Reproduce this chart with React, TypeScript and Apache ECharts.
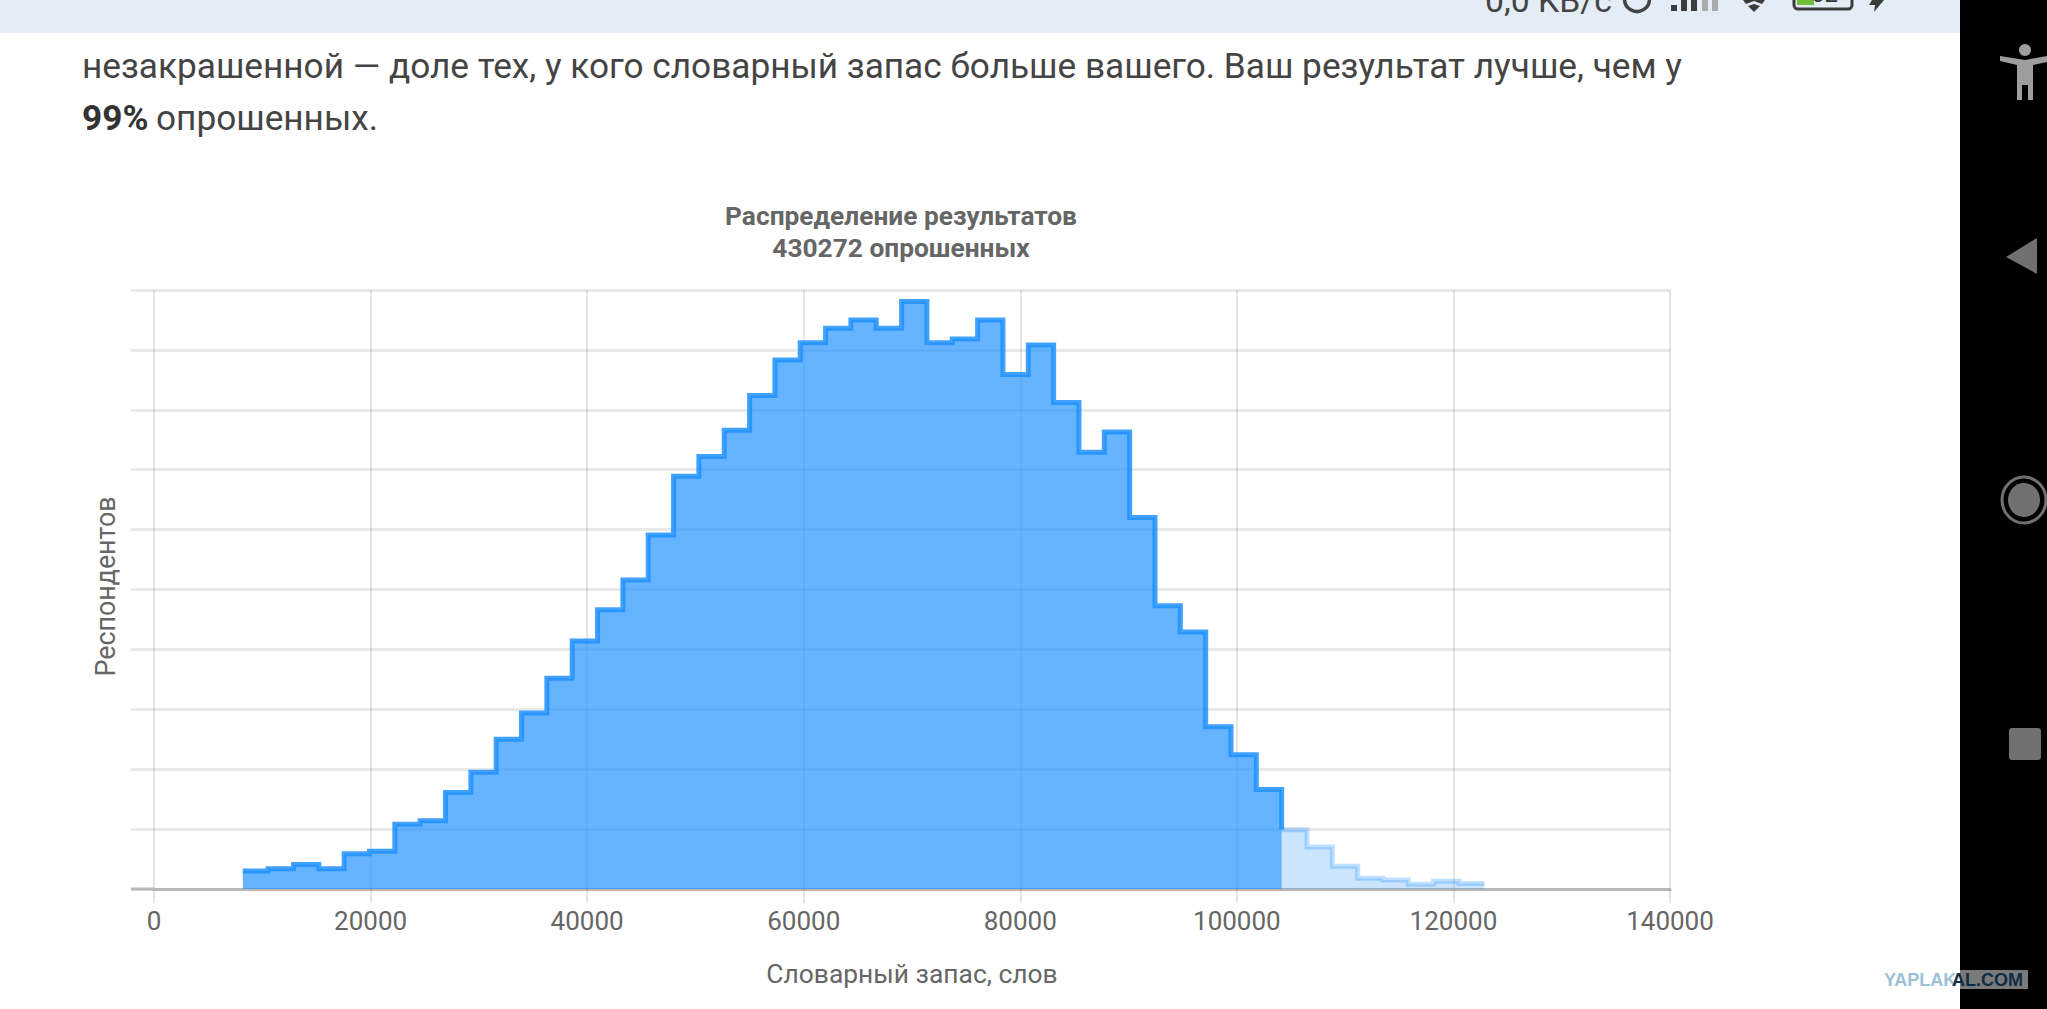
import React, { useEffect, useRef } from "react";
import * as echarts from "echarts";

const titleLines = ["Распределение результатов", "430272 опрошенных"];
const xAxisName = "Словарный запас, слов";
const yAxisName = "Респондентов";
const paragraphLine1 = "незакрашенной — доле тех, у кого словарный запас больше вашего. Ваш результат лучше, чем у";
const paragraphBold = "99%";
const paragraphRest = "опрошенных.";

// left edges of the histogram bins (words), last value closes the final bin
const binEdges = [
  8200, 10540, 12880, 15220, 17560, 19900, 22240, 24580, 26920, 29260,
  31600, 33940, 36280, 38620, 40960, 43300, 45640, 47980, 50320, 52660,
  55000, 57340, 59680, 62020, 64360, 66700, 69040, 71380, 73720, 76060,
  78400, 80740, 83080, 85420, 87760, 90100, 92440, 94780, 97120, 99460,
  101800, 104140, 106480, 108820, 111160, 113500, 115840, 118180, 120520, 122860,
];
// bar heights in gridline units (the y axis has no printed numbers)
const binHeights = [
  0.30, 0.34, 0.41, 0.34, 0.59, 0.63, 1.08, 1.14, 1.61, 1.95,
  2.50, 2.94, 3.52, 4.14, 4.66, 5.16, 5.91, 6.89, 7.22, 7.66,
  8.24, 8.83, 9.12, 9.36, 9.50, 9.36, 9.81, 9.12, 9.18, 9.50,
  8.59, 9.08, 8.12, 7.29, 7.63, 6.20, 4.73, 4.29, 2.71, 2.24,
  1.66, 0.99, 0.70, 0.38, 0.18, 0.15, 0.08, 0.13, 0.09,
];
const filledBinCount = 41;

const GRID_COLOR = "rgba(0,0,0,0.1)";
const H_GRID_COLOR = "rgba(0,0,0,0.085)";
const TEXT_COLOR = "#666666";
const PANEL_GREY = "#707070";
const STATUS_DARK = "#3c3c3c";

export default function App() {
  const ref = useRef<HTMLDivElement>(null);
  useEffect(() => {
    document.body.style.margin = "0";
    const chart = echarts.init(ref.current!, undefined, { renderer: "svg" });

    const filled: number[][] = binEdges
      .slice(0, filledBinCount)
      .map((x, i) => [x, binHeights[i]]);
    filled.push([binEdges[filledBinCount], binHeights[filledBinCount]]);
    const unfilled: number[][] = binEdges
      .slice(filledBinCount, binHeights.length)
      .map((x, i) => [x, binHeights[filledBinCount + i]]);
    unfilled.push([binEdges[binHeights.length], binHeights[binHeights.length - 1]]);

    chart.setOption({
      animation: false,
      backgroundColor: "#ffffff",
      textStyle: { fontFamily: "Roboto" },
      title: {
        text: titleLines.join("\n"),
        left: 896,
        top: 195,
        textAlign: "center",
        textStyle: {
          fontFamily: "Roboto",
          fontSize: 26.3,
          fontWeight: "bold",
          color: TEXT_COLOR,
          lineHeight: 32,
        },
      },
      grid: { left: 154, right: 377, top: 290, bottom: 120, containLabel: false },
      xAxis: {
        type: "value",
        min: 0,
        max: 140000,
        interval: 20000,
        name: xAxisName,
        nameLocation: "middle",
        nameGap: 72,
        nameTextStyle: { fontFamily: "Roboto", fontSize: 26.4, color: TEXT_COLOR },
        axisLine: { show: true, onZero: false, lineStyle: { color: "#b8b8b8", width: 3 } },
        axisTick: { show: true, length: 14, lineStyle: { color: GRID_COLOR, width: 2 } },
        axisLabel: {
          fontFamily: "Roboto",
          fontSize: 26,
          color: TEXT_COLOR,
          margin: 19,
          formatter: (v: number) => String(v),
        },
        splitLine: { show: true, lineStyle: { color: GRID_COLOR, width: 2 } },
      },
      yAxis: {
        type: "value",
        min: 0,
        max: 10,
        interval: 1,
        name: yAxisName,
        nameLocation: "middle",
        nameGap: 35,
        nameRotate: 90,
        nameTextStyle: { fontFamily: "Roboto", fontSize: 26.8, color: TEXT_COLOR, padding: [0, 0, 0, 6] },
        axisLine: { show: false },
        axisTick: { show: true, length: 23, lineStyle: { color: H_GRID_COLOR, width: 3 } },
        axisLabel: { show: false },
        splitLine: { show: true, lineStyle: { color: H_GRID_COLOR, width: 3 } },
      },
      series: [
        {
          type: "line",
          step: "end",
          data: filled,
          showSymbol: false,
          symbol: "none",
          lineStyle: { color: "rgba(30,144,255,0.85)", width: 5, cap: "butt", join: "miter" },
          areaStyle: { color: "rgba(30,144,255,0.68)", opacity: 1 },
          z: 3,
        },
        {
          type: "line",
          step: "end",
          data: unfilled,
          showSymbol: false,
          symbol: "none",
          lineStyle: { color: "rgba(30,144,255,0.28)", width: 5, cap: "butt", join: "miter" },
          areaStyle: { color: "rgba(30,144,255,0.23)", opacity: 1 },
          z: 2,
        },
      ],
      graphic: [
        { type: "line", z: 1, shape: { x1: 131, y1: 889, x2: 154, y2: 889 }, style: { stroke: "#b8b8b8", lineWidth: 3 } },
        { type: "rect", silent: true, z: 1, shape: { x: 0, y: 0, width: 1960, height: 33 }, style: { fill: "#e4edf5" } },
        { type: "text", z: 2, x: 1485, y: 17, style: { text: "0,0 KB/с", fontFamily: "Roboto", fontSize: 33.8, fill: "#444444", textVerticalAlign: "bottom" } },
        { type: "circle", z: 2, shape: { cx: 1637, cy: -1, r: 12.5 }, style: { fill: "none", stroke: "#444444", lineWidth: 3.5 } },
        { type: "rect", z: 2, shape: { x: 1671, y: 5, width: 6, height: 6 }, style: { fill: STATUS_DARK } },
        { type: "rect", z: 2, shape: { x: 1681, y: 0, width: 6, height: 11 }, style: { fill: STATUS_DARK } },
        { type: "rect", z: 2, shape: { x: 1691, y: 0, width: 6, height: 11 }, style: { fill: STATUS_DARK } },
        { type: "rect", z: 2, shape: { x: 1702, y: 0, width: 6, height: 11 }, style: { fill: "#aaaaaa" } },
        { type: "rect", z: 2, shape: { x: 1712, y: 0, width: 6, height: 11 }, style: { fill: "#aaaaaa" } },
        { type: "polygon", z: 2, shape: { points: [[1748, 6], [1754, 4], [1760, 6], [1754, 12]] }, style: { fill: STATUS_DARK } },
        { type: "polygon", z: 2, shape: { points: [[1743, 0], [1765, 0], [1762, 4], [1754, 1], [1746, 4]] }, style: { fill: STATUS_DARK } },
        { type: "rect", z: 2, shape: { x: 1797, y: -4, width: 17, height: 9 }, style: { fill: "#6ec03a" } },
        { type: "text", z: 3, x: 1811, y: 6, style: { text: "62", fontFamily: "Roboto", fontSize: 24, fill: "#333333", textVerticalAlign: "bottom" } },
        { type: "rect", z: 3, shape: { x: 1794, y: -12, width: 58, height: 21, r: 4 }, style: { fill: "none", stroke: STATUS_DARK, lineWidth: 3 } },
        { type: "polygon", z: 2, shape: { points: [[1872, 0], [1884, 0], [1874, 12], [1875, 5], [1869, 5]] }, style: { fill: STATUS_DARK } },

        { type: "text", z: 2, x: 82, y: 66, style: { text: paragraphLine1, fontFamily: "Roboto", fontSize: 35.2, fill: "#444444", textVerticalAlign: "middle" } },
        { type: "text", z: 2, x: 82, y: 118, style: { text: paragraphBold, fontFamily: "Roboto", fontSize: 35.2, fontWeight: "bold", fill: "#333333", textVerticalAlign: "middle" } },
        { type: "text", z: 2, x: 156, y: 118, style: { text: paragraphRest, fontFamily: "Roboto", fontSize: 35.2, fill: "#444444", textVerticalAlign: "middle" } },

        { type: "rect", z: 5, shape: { x: 1960, y: 0, width: 87, height: 1009 }, style: { fill: "#000000" } },
        { type: "circle", z: 6, shape: { cx: 2025, cy: 50, r: 6 }, style: { fill: "#9e9e9e" } },
        { type: "polygon", z: 6, shape: { points: [[2000, 56], [2025, 60], [2047, 56], [2047, 62], [2033, 65], [2033, 100], [2028, 100], [2028, 85], [2022, 85], [2022, 100], [2017, 100], [2017, 65], [2000, 61]] }, style: { fill: "#9e9e9e" } },
        { type: "polygon", z: 6, shape: { points: [[2006, 257], [2037, 238], [2037, 274]] }, style: { fill: PANEL_GREY } },
        { type: "ellipse", z: 6, shape: { cx: 2024, cy: 500, rx: 22, ry: 23 }, style: { fill: "none", stroke: PANEL_GREY, lineWidth: 3 } },
        { type: "ellipse", z: 6, shape: { cx: 2024, cy: 500, rx: 16, ry: 17 }, style: { fill: PANEL_GREY } },
        { type: "rect", z: 6, shape: { x: 2009, y: 728, width: 32, height: 32, r: 3 }, style: { fill: PANEL_GREY } },
        { type: "rect", z: 7, shape: { x: 1960, y: 970, width: 68, height: 19 }, style: { fill: "#7a7a7a" } },
        { type: "text", z: 8, x: 1884, y: 980, style: { text: "YAPLAK", fontFamily: "Liberation Sans Narrow, Liberation Sans", fontSize: 18, fontWeight: "bold", fill: "#9cc0d8", textVerticalAlign: "middle" } },
        { type: "text", z: 8, x: 1952, y: 980, style: { text: "AL.COM", fontFamily: "Liberation Sans Narrow, Liberation Sans", fontSize: 18, fontWeight: "bold", fill: "#0d2c45", textVerticalAlign: "middle" } },
      ],
    });
    return () => chart.dispose();
  }, []);
  return <div ref={ref} style={{ position: "absolute", left: 0, top: 0, width: 2047, height: 1009 }} />;
}
